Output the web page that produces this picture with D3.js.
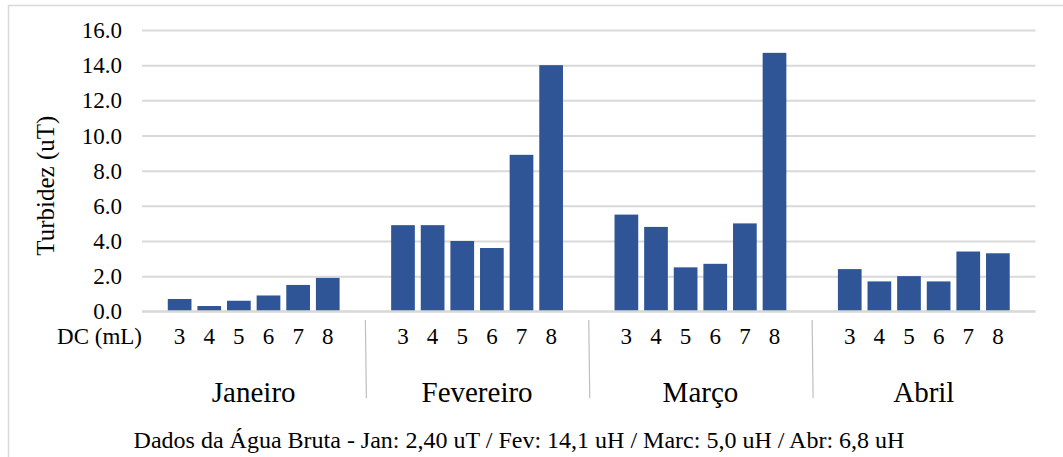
<!DOCTYPE html>
<html>
<head>
<meta charset="utf-8">
<script src="https://cdn.jsdelivr.net/npm/d3@7"></script>
<style>
  html, body { margin: 0; padding: 0; background: #fff; }
  svg { display: block; }
</style>
</head>
<body>
<svg id="chart" width="1063" height="457"></svg>
<script>
const months = ["Janeiro", "Fevereiro", "Março", "Abril"];
const doses = ["3", "4", "5", "6", "7", "8"];
const janeiro = [0.7, 0.3, 0.6, 0.9, 1.5, 1.9];
const fevereiro = [4.9, 4.9, 4.0, 3.6, 8.9, 14.0];
const marco = [5.5, 4.8, 2.5, 2.7, 5.0, 14.7];
const abril = [2.4, 1.7, 2.0, 1.7, 3.4, 3.3];
const yTicks = [0, 2, 4, 6, 8, 10, 12, 14, 16];
const yLabel = "Turbidez (uT)";
const xLabel = "DC (mL)";
const caption = "Dados da Água Bruta - Jan: 2,40 uT / Fev: 14,1 uH / Marc: 5,0 uH / Abr: 6,8 uH";

const seriesByMonth = [janeiro, fevereiro, marco, abril];
const FONT = "Liberation Serif";

const svg = d3.select("#chart");
const W = 1063, H = 457;
const plot = { left: 142, right: 1035.5, top: 30, bottom: 311.3 };

// outer border
svg.append("rect")
  .attr("x", 8.5).attr("y", 5.5)
  .attr("width", W + 10).attr("height", H + 10)
  .attr("fill", "none").attr("stroke", "#d9d9d9").attr("stroke-width", 1.5);

const y = d3.scaleLinear().domain([0, 16]).range([plot.bottom, plot.top]);
const x0 = d3.scaleBand().domain(months).range([plot.left, plot.right]).padding(0);
const x1 = d3.scaleBand().domain(doses).range([0, x0.bandwidth()])
  .paddingInner(0.2).paddingOuter(0.87);

// gridlines + tick labels
const yAxis = d3.axisLeft(y).tickValues(yTicks)
  .tickSize(-(plot.right - plot.left)).tickFormat(d3.format(".1f")).tickPadding(20);
const gy = svg.append("g").attr("transform", `translate(${plot.left},0)`).call(yAxis);
gy.select(".domain").remove();
gy.selectAll(".tick line").attr("stroke", "#d9d9d9").attr("stroke-width", 2);
gy.selectAll(".tick text")
  .attr("font-family", FONT)
  .attr("font-size", 23).attr("fill", "#000")
  .attr("dy", "0.33em");

// bars
const data = [];
months.forEach((m, i) => doses.forEach((d, j) => data.push({ m, d, v: seriesByMonth[i][j] })));
svg.append("g").selectAll("rect").data(data).join("rect")
  .attr("x", d => x0(d.m) + x1(d.d))
  .attr("y", d => y(d.v))
  .attr("width", x1.bandwidth())
  .attr("height", d => y(0) - y(d.v))
  .attr("fill", "#2F5597");

// baseline
svg.append("line")
  .attr("x1", plot.left).attr("x2", plot.right)
  .attr("y1", y(0)).attr("y2", y(0))
  .attr("stroke", "#d9d9d9").attr("stroke-width", 2);

// dose labels
const gx = svg.append("g");
months.forEach(m => {
  gx.selectAll(null).data(doses).join("text")
    .attr("x", d => x0(m) + x1(d) + x1.bandwidth() / 2)
    .attr("y", 344)
    .attr("text-anchor", "middle")
    .attr("font-family", FONT)
    .attr("font-size", 23)
    .text(d => d);
});
svg.append("text")
  .attr("x", 142).attr("y", 344)
  .attr("text-anchor", "end").attr("font-size", 23)
  .attr("font-family", FONT)
  .text(xLabel);

// month labels
svg.append("g").selectAll("text").data(months).join("text")
  .attr("x", d => x0(d) + x0.bandwidth() / 2)
  .attr("y", 402)
  .attr("text-anchor", "middle")
  .attr("font-family", FONT)
  .attr("font-size", 29)
  .text(d => d);

// separators
svg.append("g").selectAll("line").data(months.slice(1)).join("line")
  .attr("x1", d => x0(d)).attr("x2", d => x0(d) + 1)
  .attr("y1", 320).attr("y2", 398)
  .attr("stroke", "#bfbfbf").attr("stroke-width", 1.2);

// y label
svg.append("text")
  .attr("transform", `translate(54,${(plot.top + plot.bottom) / 2 + 15}) rotate(-90)`)
  .attr("text-anchor", "middle")
  .attr("font-size", 25)
  .attr("font-family", FONT)
  .text(yLabel);

// caption
svg.append("text")
  .attr("x", (133 + 905) / 2).attr("y", 448)
  .attr("text-anchor", "middle")
  .attr("font-size", 24)
  .attr("font-family", FONT)
  .text(caption);
</script>
</body>
</html>
